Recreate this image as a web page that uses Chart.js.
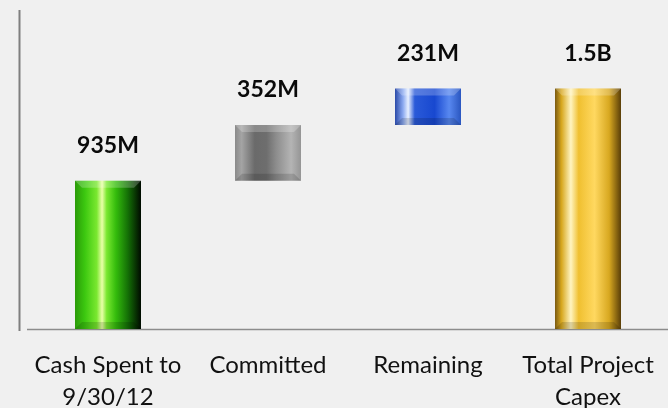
<!DOCTYPE html>
<html>
<head>
<meta charset="utf-8">
<script src="https://cdn.jsdelivr.net/npm/chart.js@4"></script>
<style>
html, body { margin: 0; padding: 0; background: #f0f0f0; }
#wrap { width: 668px; height: 408px; }
</style>
</head>
<body>
<div id="wrap"><canvas id="capexChart"></canvas></div>
<script>
// データ
const categories = [['Cash Spent to', '9/30/12'], 'Committed', 'Remaining', ['Total Project', 'Capex']];
const barStarts = [0, 935, 1287, 0];
const barEnds = [935, 1287, 1518, 1518];
const valueLabels = ['935M', '352M', '231M', '1.5B'];
const yMax = 2000;

// 棒のグラデーション (左→右)
const barGradients = [
    [[0, '#2a9a08'], [0.15, '#3cc810'], [0.33, '#7ae830'], [0.41, '#eaffa8'], [0.48, '#7ae830'], [0.62, '#34bc0c'], [0.8, '#147006'], [1, '#000a00']],
    [[0, '#8a8a8a'], [0.1, '#a4a4a4'], [0.3, '#6a6a6a'], [0.48, '#6e6e6e'], [0.62, '#8c8c8c'], [0.85, '#b4b4b4'], [1, '#959595']],
    [[0, '#2a4aa8'], [0.12, '#8aa8f0'], [0.2, '#e8f0ff'], [0.3, '#2a5ad8'], [0.6, '#1848d0'], [0.82, '#5888f0'], [1, '#2a56c0']],
    [[0, '#7a5a10'], [0.1, '#d8a820'], [0.24, '#fff4c0'], [0.36, '#f0c030'], [0.6, '#ffd860'], [0.82, '#d8a820'], [1, '#5a3e08']]
];

function makeGradient(context) {
    const chart = context.chart;
    const area = chart.chartArea;
    if (!area) return '#888';
    const xScale = chart.scales.x;
    const cx = xScale.getPixelForValue(context.dataIndex);
    const half = (area.width / categories.length) * 0.4125 / 2;
    const g = chart.ctx.createLinearGradient(cx - half, 0, cx + half, 0);
    barGradients[context.dataIndex].forEach(s => g.addColorStop(s[0], s[1]));
    return g;
}

// 軸線
const axisLines = {
    id: 'axisLines',
    beforeDatasetsDraw(chart) {
        const ctx = chart.ctx;
        const area = chart.chartArea;
        const y0 = chart.scales.y.getPixelForValue(0);
        ctx.save();
        ctx.strokeStyle = '#7f7f7f';
        ctx.lineWidth = 2;
        ctx.beginPath();
        ctx.moveTo(19.5, 10);
        ctx.lineTo(19.5, y0 + 2);
        ctx.stroke();
        ctx.strokeStyle = '#8c8c8c';
        ctx.lineWidth = 1.5;
        ctx.beginPath();
        ctx.moveTo(area.left - 1, y0 + 0.5);
        ctx.lineTo(chart.width, y0 + 0.5);
        ctx.stroke();
        ctx.restore();
    }
};

// ベベルと値ラベル
const barDecor = {
    id: 'barDecor',
    afterDatasetsDraw(chart) {
        const ctx = chart.ctx;
        const meta = chart.getDatasetMeta(0);
        ctx.save();
        meta.data.forEach((el, i) => {
            const top = Math.min(el.y, el.base);
            const bottom = Math.max(el.y, el.base);
            const left = el.x - el.width / 2;
            const right = el.x + el.width / 2;
            const b = 7;
            // 上のベベル
            ctx.fillStyle = 'rgba(255,255,255,0.22)';
            ctx.beginPath();
            ctx.moveTo(left, top);
            ctx.lineTo(right, top);
            ctx.lineTo(right - b, top + b);
            ctx.lineTo(left + b, top + b);
            ctx.closePath();
            ctx.fill();
            // 下のベベル
            ctx.fillStyle = 'rgba(0,0,0,0.14)';
            ctx.beginPath();
            ctx.moveTo(left, bottom);
            ctx.lineTo(right, bottom);
            ctx.lineTo(right - b, bottom - b);
            ctx.lineTo(left + b, bottom - b);
            ctx.closePath();
            ctx.fill();

            ctx.fillStyle = '#0a0a0a';
            ctx.font = "bold 23px Lato, 'Open Sans', sans-serif";
            ctx.textAlign = 'center';
            ctx.textBaseline = 'middle';
            ctx.fillText(valueLabels[i], el.x, top - 35);
        });
        ctx.restore();
    }
};

function createCapexChart() {
    const ctx = document.getElementById('capexChart').getContext('2d');

    new Chart(ctx, {
        type: 'bar',
        data: {
            labels: categories,
            datasets: [{
                data: barStarts.map((s, i) => [s, barEnds[i]]),
                backgroundColor: makeGradient,
                borderWidth: 0,
                barPercentage: 0.4125,
                categoryPercentage: 1.0
            }]
        },
        options: {
            responsive: true,
            maintainAspectRatio: false,
            animation: false,
            layout: {
                padding: { left: 28, right: 0, top: 12, bottom: 0 }
            },
            plugins: {
                legend: { display: false },
                tooltip: { enabled: false }
            },
            scales: {
                x: {
                    grid: { display: false },
                    border: { display: false },
                    ticks: {
                        color: '#111',
                        padding: 12,
                        maxRotation: 0,
                        autoSkip: false,
                        font: { family: "Lato, 'Open Sans', sans-serif", size: 24, lineHeight: 1.33 }
                    },
                    afterFit: function(scale) {
                        scale.height = 79;
                    }
                },
                y: {
                    display: false,
                    min: 0,
                    max: yMax
                }
            }
        },
        plugins: [axisLines, barDecor]
    });
}

createCapexChart();
</script>
</body>
</html>
